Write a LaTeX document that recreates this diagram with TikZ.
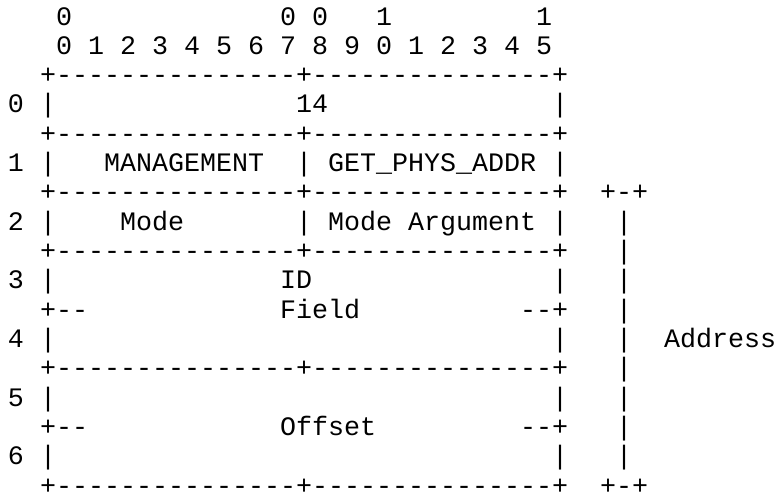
\documentclass[tikz,border=0pt]{standalone}
\usepackage{fontspec}
\setmonofont{Liberation Mono}
\usetikzlibrary{math}

\begin{document}
\begin{tikzpicture}[x=16pt,y=-29.33pt,
  cell/.style={anchor=base west,inner sep=0pt,outer sep=0pt,
    font=\ttfamily\fontsize{26.67}{29.33}\selectfont}]
\tikzmath{
\wallL=3;
\wallM=19;
\wallR=35;
\wallA=39;
}

\useasboundingbox (0.5,-0.8524) rectangle (49.0625,16.0245);

% bit ruler
\node[cell] (hdA) at (4,0) {0};
\node[cell] (hdB) at (18,0) {0 0};
\node[cell] (hdC) at (24,0) {1};
\node[cell] (hdD) at (34,0) {1};
\node[cell] (bits) at (4,1) {0 1 2 3 4 5 6 7 8 9 0 1 2 3 4 5};

% frame
\foreach \r [count=\i from 0] in {3,5,...,15} {
  \node[cell] (lab\i) at (1,\r) {\i};
  \node[cell] (wl\i) at (\wallL,\r) {|};
  \node[cell] (wr\i) at (\wallR,\r) {|};
}
\foreach \r in {5,7} \node[cell] (wm\r) at (\wallM,\r) {|};
\foreach \r in {2,4,6,8,12,16} \node[cell] (rule\r) at (\wallL,\r) {+---------------+---------------+};
\foreach \r in {10,14} {
  \node[cell] (cl\r) at (\wallL,\r) {+--};
  \node[cell] (cr\r) at (\wallR-2,\r) {--+};
}

% fields
\node[cell] (len) at (19,3) {14};
\node[cell] (mgmt) at (7,5) {MANAGEMENT};
\node[cell] (cmd) at (21,5) {GET\_PHYS\_ADDR};
\node[cell] (mode) at (8,7) {Mode};
\node[cell] (modearg) at (21,7) {Mode Argument};
\node[cell] (idA) at (18,9) {ID};
\node[cell] (idB) at (18,10) {Field};
\node[cell] (ofs) at (18,14) {Offset};

% address brace
\foreach \r in {6,16} \node[cell] (br\r) at (\wallA-1,\r) {+-+};
\foreach \r in {7,...,15} \node[cell] (ad\r) at (\wallA,\r) {|};
\node[cell] (addr) at (42,11) {Address};
\end{tikzpicture}
\end{document}
